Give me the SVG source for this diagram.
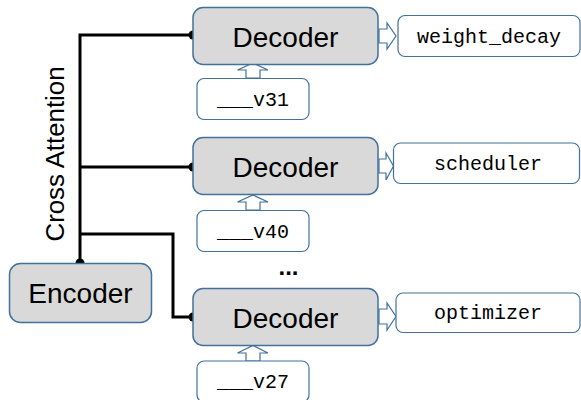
<svg xmlns="http://www.w3.org/2000/svg" width="581" height="400" viewBox="0 0 581 400">
<style>
.box{fill:#D9D9D9;stroke:#41719C;stroke-width:1.5}
.wbox{fill:#FFFFFF;stroke:#41719C;stroke-width:1.2}
.arr{fill:#FFFFFF;stroke:#41719C;stroke-width:1.2;stroke-linejoin:miter}
.big{font-family:"Liberation Sans",Arial,sans-serif;font-size:28px;fill:#000;text-anchor:middle}
.mono{font-family:"Liberation Mono","DejaVu Sans Mono",monospace;font-size:20px;fill:#000;text-anchor:middle}
.lbl{font-family:"Liberation Sans",Arial,sans-serif;font-size:25px;fill:#000;text-anchor:middle}
.wire{fill:none;stroke:#000;stroke-width:3;stroke-linejoin:miter}
.dot{fill:#000}
</style>
<rect width="581" height="400" fill="#FFFFFF"/>
<g id="connectors">
<polyline class="wire" points="80,263 80,35 193,35"/>
<polyline class="wire" points="80,167 193,167"/>
<polyline class="wire" points="80,234 173,234 173,317 193,317"/>
<circle class="dot" cx="80" cy="263" r="4.5"/>
<circle class="dot" cx="193" cy="35" r="4.5"/>
<circle class="dot" cx="193" cy="167" r="4.5"/>
<circle class="dot" cx="193" cy="317" r="4.5"/>
<polygon class="arr" points="246,78 246,70 237.5,70 253,63 268,70 260,70 260,78"/>
<polygon class="arr" points="246,210 246,202 237.5,202 253,195 268,202 260,202 260,210"/>
<polygon class="arr" points="246,361 246,353 237.5,353 253,345.5 268,353 260,353 260,361"/>
<polygon class="arr" points="379,29 387,29 387,23 396,36 387,49 387,43 379,43"/>
<polygon class="arr" points="379,159 386,159 386,153 393.5,166 386,180 386,173 379,173"/>
<polygon class="arr" points="379,309 387,309 387,303 396,316.5 387,330 387,324 379,324"/>
</g>
<g id="encoder">
<rect class="box" x="9.5" y="263.5" width="142" height="59" rx="11"/>
<text class="big" x="80.5" y="303">Encoder</text>
</g>
<g id="cross-attention">
<text class="lbl" transform="translate(63.5,154) rotate(-90)" textLength="175" lengthAdjust="spacingAndGlyphs">Cross Attention</text>
</g>
<g id="decoder1">
<rect class="box" x="193" y="7.5" width="185" height="57" rx="10"/>
<text class="big" x="285.5" y="46.5">Decoder</text>
</g>
<g id="input1">
<rect class="wbox" x="197" y="78.5" width="112" height="41" rx="7"/>
<text class="mono" x="253" y="106">___v31</text>
</g>
<g id="output1">
<rect class="wbox" x="398" y="15.5" width="182" height="41" rx="7"/>
<text class="mono" x="489" y="43">weight_decay</text>
</g>
<g id="decoder2">
<rect class="box" x="193" y="137.5" width="185" height="57" rx="10"/>
<text class="big" x="285.5" y="176.5">Decoder</text>
</g>
<g id="input2">
<rect class="wbox" x="197" y="210.5" width="112" height="41" rx="7"/>
<text class="mono" x="253" y="238">___v40</text>
</g>
<g id="output2">
<rect class="wbox" x="393.5" y="143" width="186" height="40.5" rx="7"/>
<text class="mono" x="488" y="170">scheduler</text>
</g>
<g id="ellipsis">
<text class="big" x="288.5" y="274.5" style="font-size:24px;font-weight:bold">...</text>
</g>
<g id="decoder3">
<rect class="box" x="193" y="288.5" width="185" height="57" rx="10"/>
<text class="big" x="285.5" y="327.5">Decoder</text>
</g>
<g id="input3">
<rect class="wbox" x="197" y="361" width="112" height="41" rx="7"/>
<text class="mono" x="253" y="388">___v27</text>
</g>
<g id="output3">
<rect class="wbox" x="396" y="293" width="184" height="39.5" rx="7"/>
<text class="mono" x="488" y="319">optimizer</text>
</g>
</svg>
